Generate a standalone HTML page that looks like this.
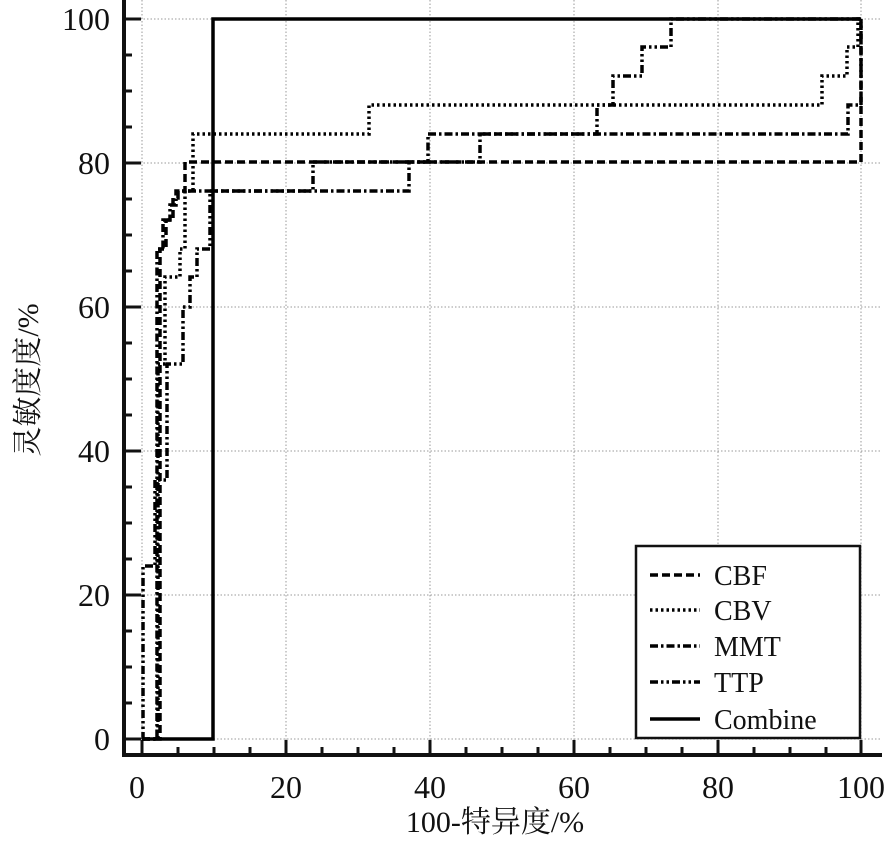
<!DOCTYPE html><html><head><meta charset="utf-8"><style>body{margin:0;background:#fff}</style></head><body>
<svg width="886" height="837" xmlns="http://www.w3.org/2000/svg" font-family="Liberation Serif, Noto Serif CJK SC, serif">
<g stroke="#999" stroke-width="1" stroke-dasharray="1.5,2">
<line x1="142" y1="0" x2="142" y2="752"/><line x1="286" y1="0" x2="286" y2="752"/><line x1="430" y1="0" x2="430" y2="752"/><line x1="574" y1="0" x2="574" y2="752"/><line x1="718" y1="0" x2="718" y2="752"/><line x1="861" y1="0" x2="861" y2="752"/>
<line x1="126" y1="19" x2="880" y2="19"/><line x1="126" y1="163" x2="880" y2="163"/><line x1="126" y1="307" x2="880" y2="307"/><line x1="126" y1="451" x2="880" y2="451"/><line x1="126" y1="595" x2="880" y2="595"/><line x1="126" y1="739" x2="880" y2="739"/>
</g>
<g stroke="#111" stroke-width="4"><line x1="124" y1="0" x2="124" y2="757"/><line x1="122" y1="755" x2="882" y2="755"/></g>
<g stroke="#111" stroke-width="3">
<path d="M124,19H141M124,163H141M124,307H141M124,451H141M124,595H141M124,739H141"/>
<path d="M124,55H132M124,91H132M124,127H132M124,199H132M124,235H132M124,271H132M124,343H132M124,379H132M124,415H132M124,487H132M124,523H132M124,559H132M124,631H132M124,667H132M124,703H132"/>
<path d="M142,755V740M286,755V740M430,755V740M574,755V740M718,755V740M861,755V740"/>
<path d="M178,755V747M214,755V747M250,755V747M322,755V747M358,755V747M394,755V747M466,755V747M502,755V747M538,755V747M610,755V747M646,755V747M682,755V747M754,755V747M790,755V747M826,755V747"/>
</g>
<g fill="none" stroke="#000" stroke-width="3.5">
<path d="M142,739H213V19H861"/>
<path stroke-dasharray="8,4" d="M142,739H160V249H166V220H173V198H178V191H185V162H861V19"/>
<path stroke-dasharray="2.5,3" d="M142,739H158V364H165V277H180V249H185V191H193V134H369V105H822V76H847V47H858V19H861"/>
<path stroke-dasharray="8,3,2.5,3" d="M142,739H157V249H163V220H170V205H176V191H409V162H428V134H848V105H861V19"/>
<path stroke-dasharray="8,3,2.5,3,2.5,3" d="M142,739H143V566H155V480H167V364H183V307H190V277H197V249H210V191H313V162H480V134H597V105H613V76H642V47H671V19H861"/>
</g>
<g font-size="32" fill="#111" text-anchor="end">
<text x="110" y="30">100</text><text x="110" y="174">80</text><text x="110" y="318">60</text><text x="110" y="462">40</text><text x="110" y="606">20</text><text x="110" y="750">0</text>
</g>
<g font-size="32" fill="#111" text-anchor="middle">
<text x="137" y="798">0</text><text x="286" y="798">20</text><text x="430" y="798">40</text><text x="574" y="798">60</text><text x="718" y="798">80</text><text x="861" y="798">100</text>
<text x="495" y="832" font-size="30">100-特异度/%</text>
<text transform="translate(38,380) rotate(-90)" font-size="30">灵敏度度/%</text>
</g>
<rect x="636" y="546" width="224" height="192" fill="#fff" stroke="#111" stroke-width="2.5"/>
<g fill="none" stroke="#000" stroke-width="3.5">
<line x1="650" y1="575" x2="700" y2="575" stroke-dasharray="8,4"/>
<line x1="650" y1="610" x2="700" y2="610" stroke-dasharray="2.5,3"/>
<line x1="650" y1="646" x2="700" y2="646" stroke-dasharray="8,3,2.5,3"/>
<line x1="650" y1="682" x2="700" y2="682" stroke-dasharray="8,3,2.5,3,2.5,3"/>
<line x1="650" y1="719" x2="700" y2="719"/>
</g>
<g font-size="28" fill="#111">
<text x="714" y="585">CBF</text><text x="714" y="620">CBV</text><text x="714" y="656">MMT</text><text x="714" y="692">TTP</text><text x="714" y="729">Combine</text>
</g>
</svg></body></html>
